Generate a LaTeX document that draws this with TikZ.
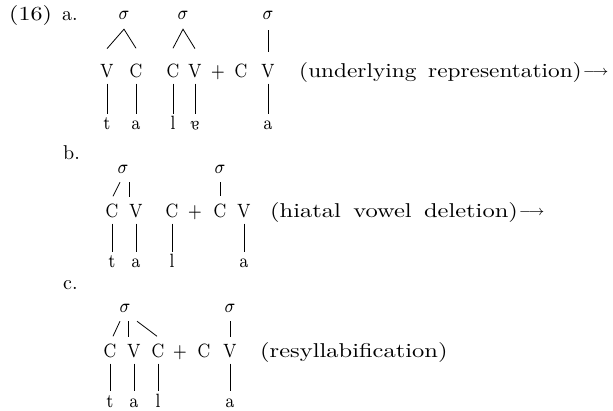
\documentclass[tikz,border=0pt]{standalone}
\usepackage{fontspec}
\usepackage{graphicx}
% segments: 7pt design size blown up, for a sturdy look
\newcommand\segtext[1]{\scalebox{2.3}[2.75]{\fontsize{7}{9}\selectfont #1}}
% glosses: 10pt design, 20pt tall, widened by the given factor
\newcommand\glosstext[2]{\scalebox{#1}[2]{\fontsize{10}{12}\selectfont #2}}
\newcommand\gap{\hspace{0.5em}}
\newcommand\derives{\hspace{1pt}\raisebox{2pt}{\scalebox{2}{\fontsize{7.5}{9}\selectfont$\longrightarrow$}}}
\begin{document}
\begin{tikzpicture}[x=1pt,y=-1pt,
  seg/.style={inner sep=0pt, anchor=base},
  bot/.style={seg, text height=11pt},
  lbl/.style={inner sep=0pt, anchor=base west},
  tie/.style={line width=0.8pt},
  down/.style={tie, shorten <=5pt, shorten >=5pt},
]
\useasboundingbox (0,0) rectangle (613,411);

% ---------------- (16) a. ----------------
\node[lbl] (num) at (9,21) {\glosstext{2.4}{(16)}};
\node[lbl] (la) at (62,21) {\glosstext{2}{a.}};

\node[seg] (as1) at (124,20) {\segtext{$\sigma$}};
\node[seg] (as2) at (183,20) {\segtext{$\sigma$}};
\node[seg] (as3) at (268,20) {\segtext{$\sigma$}};

\node[seg] (aV1) at (107,78) {\segtext{V}};
\node[seg] (aC1) at (136,78) {\segtext{C}};
\node[seg] (aC2) at (173,78) {\segtext{C}};
\node[seg] (aV2) at (195,78) {\segtext{V}};
\node[seg] (aP)  at (218,78) {\segtext{$+$}};
\node[seg] (aC3) at (241,78) {\segtext{C}};
\node[seg] (aV3) at (268,78) {\segtext{V}};

\node[bot] (at)  at (107,130) {\segtext{t}};
\node[bot] (aa1) at (136,130) {\segtext{a}};
\node[bot] (al)  at (173,130) {\segtext{l}};
\node[bot] (aE)  at (195,130) {\segtext{\rotatebox[origin=c]{180}{a}}};
\node[bot] (aa2) at (268,130) {\segtext{a}};

\node[lbl] (ga) at (299,78) {\glosstext{2.33}{(underlying\gap representation)}\derives};

% the two syllable peaks drawn as carets
\coordinate (ap1) at ([yshift=-9pt]as1.south);
\coordinate (ap2) at ([yshift=-9pt]as2.south);
\draw[tie] ([yshift=16pt]aV1.north) -- (ap1) -- ([yshift=16pt]aC1.north);
\draw[tie] ([yshift=16pt]aC2.north) -- (ap2) -- ([yshift=16pt]aV2.north);
\draw[tie] ([yshift=-10pt]as3.south) -- ([yshift=13pt]aV3.north);

\draw[down] (aV1) -- (at);
\draw[down] (aC1) -- (aa1);
\draw[down] (aC2) -- (al);
\draw[down] (aV2) -- (aE);
\draw[down] (aV3) -- (aa2);

% ---------------- b. ----------------
\node[lbl] (lb) at (63,160) {\glosstext{2}{b.}};

\node[seg] (bs1) at (123,174) {\segtext{$\sigma$}};
\node[seg] (bs2) at (220,174) {\segtext{$\sigma$}};

\node[seg] (bC1) at (112,218) {\segtext{C}};
\node[seg] (bV1) at (136,218) {\segtext{V}};
\node[seg] (bC2) at (172,218) {\segtext{C}};
\node[seg] (bP)  at (195,218) {\segtext{$+$}};
\node[seg] (bC3) at (220,218) {\segtext{C}};
\node[seg] (bV3) at (244,218) {\segtext{V}};

\node[bot] (bt)  at (112,268) {\segtext{t}};
\node[bot] (ba1) at (136,268) {\segtext{a}};
\node[bot] (bl)  at (172,268) {\segtext{l}};
\node[bot] (ba2) at (244,268) {\segtext{a}};

\node[lbl] (gb) at (270,218) {\glosstext{2.45}{(hiatal\gap vowel\gap deletion)}\derives};

\draw[tie] ([shift={(-3pt,-8pt)}]bs1.south) -- ([shift={(1pt,8pt)}]bC1.north);
\draw[tie] ([shift={(6pt,-8pt)}]bs1.south) -- ([shift={(-7pt,8pt)}]bV1.north);
\draw[tie] ([yshift=-8pt]bs2.south) -- ([yshift=8pt]bC3.north);

\draw[down] (bC1) -- (bt);
\draw[down] (bV1) -- (ba1);
\draw[down] (bC2) -- (bl);
\draw[down] (bV3) -- (ba2);

% ---------------- c. ----------------
\node[lbl] (lc) at (63,290) {\glosstext{2}{c.}};

\node[seg] (cs1) at (125,313) {\segtext{$\sigma$}};
\node[seg] (cs2) at (230,313) {\segtext{$\sigma$}};

\node[seg] (cC1) at (110,358) {\segtext{C}};
\node[seg] (cV1) at (134,358) {\segtext{V}};
\node[seg] (cC2) at (158,358) {\segtext{C}};
\node[seg] (cP)  at (180,358) {\segtext{$+$}};
\node[seg] (cC3) at (204,358) {\segtext{C}};
\node[seg] (cV3) at (230,358) {\segtext{V}};

\node[bot] (ct)  at (110,407) {\segtext{t}};
\node[bot] (ca1) at (134,407) {\segtext{a}};
\node[bot] (cl)  at (158,407) {\segtext{l}};
\node[bot] (ca2) at (230,407) {\segtext{a}};

\node[lbl] (gc) at (260,358) {\glosstext{2.45}{(resyllabification)}};

\draw[tie] ([shift={(-5pt,-8pt)}]cs1.south) -- ([shift={(3pt,8pt)}]cC1.north);
\draw[tie] ([shift={(3pt,-8pt)}]cs1.south) -- ([shift={(-6pt,8pt)}]cV1.north);
\draw[tie] ([shift={(12pt,-8pt)}]cs1.south) -- ([shift={(-1pt,8pt)}]cC2.north);
\draw[tie] ([yshift=-8pt]cs2.south) -- ([yshift=8pt]cV3.north);

\draw[down] (cC1) -- (ct);
\draw[down] (cV1) -- (ca1);
\draw[down] (cC2) -- (cl);
\draw[down] (cV3) -- (ca2);
\end{tikzpicture}
\end{document}
